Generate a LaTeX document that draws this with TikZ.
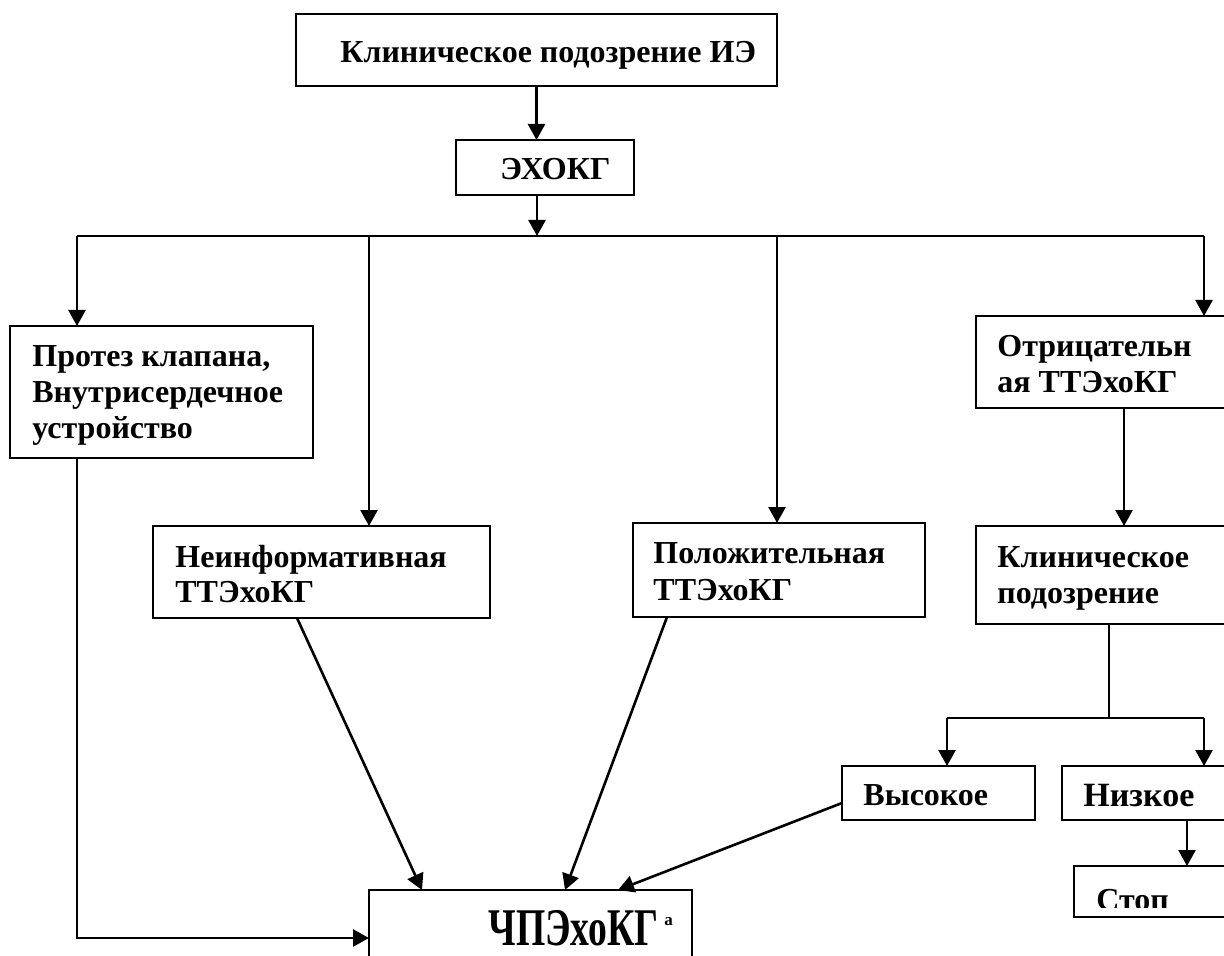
\documentclass[tikz,border=0pt]{standalone}
\usepackage{fontspec}
\setmainfont{Liberation Serif}
\usetikzlibrary{arrows.meta,fit}
\begin{document}
\begin{tikzpicture}[x=0.5pt,y=-0.5pt,
  box/.style={draw, line width=1.1pt, inner sep=0pt, outer sep=0pt},
  lbl/.style={anchor=base west, inner sep=0pt, font=\fontsize{16}{18}\selectfont\bfseries},
  conn/.style={line width=1.3pt},
  arr/.style={conn, -{Triangle[length=8pt,width=8.5pt]}}]
\useasboundingbox (0,0) rectangle (1224,956);
\clip (0,0) rectangle (1224,956);
% boxes
\node[box, fit={(296,14) (777,86)}] (ie) {};
\node[box, fit={(456,140) (634,195)}] (echo) {};
\node[box, fit={(10,326) (313,458)}] (prot) {};
\node[box, fit={(153,526) (490,618)}] (neinf) {};
\node[box, fit={(633,523) (925,617)}] (pos) {};
\node[box, fit={(976,316) (1240,408)}] (neg) {};
\node[box, fit={(976,526) (1240,624)}] (clin) {};
\node[box, fit={(842,766) (1035,820)}] (high) {};
\node[box, fit={(1062,766) (1240,820)}] (low) {};
\node[box, fit={(1074,866) (1240,917)}] (stop) {};
\node[box, fit={(369,890) (692,986)}] (tee) {};
% texts
\node[lbl] (t1) at (340,63) {Клиническое подозрение ИЭ};
\node[lbl] (t2) at (500,180) {ЭХОКГ};
\node[lbl] (t3a) at (32,367) {Протез клапана,};
\node[lbl] (t3b) at (32,403) {Внутрисердечное};
\node[lbl] (t3c) at (32,438) {устройство};
\node[lbl] (t4a) at (175,567) {Неинформативная};
\node[lbl] (t4b) at (175,602) {ТТЭхоКГ};
\node[lbl] (t5a) at (653,563) {Положительная};
\node[lbl] (t5b) at (653,600) {ТТЭхоКГ};
\node[lbl] (t6a) at (997,357) {Отрицательн};
\node[lbl] (t6b) at (997,393) {ая ТТЭхоКГ};
\node[lbl] (t7a) at (997,567) {Клиническое};
\node[lbl] (t7b) at (997,603) {подозрение};
\node[lbl] (t8) at (863,805) {Высокое};
\node[lbl, font=\fontsize{17}{18}\selectfont\bfseries] (t9) at (1083,806) {Низкое};
\begin{scope}
\clip (1074,866) rectangle (1240,907);
\node[lbl] (t10) at (1096,910) {Стоп};
\end{scope}
\node[lbl, font=\fontsize{26.5}{28}\selectfont\bfseries] (t11) at (488,945) {\scalebox{0.71}[1]{ЧПЭхоКГ}};
\node[lbl, font=\fontsize{8.5}{9}\selectfont\bfseries] (t12) at (664,925) {a};
% coordinates
\coordinate (j) at (537,236);
\coordinate (bl) at (77,236);
\coordinate (b2) at (369,236);
\coordinate (b3) at (777,236);
\coordinate (br) at (1204,236);
\coordinate (c1) at (1124,408);
\coordinate (s) at (1109,718);
\coordinate (hs) at (947,718);
\coordinate (ls) at (1204,718);
\coordinate (lo) at (1187,820);
% connectors
\draw[arr] (ie.south) -- (ie.south |- echo.north);
\draw[arr] (j |- echo.south) -- (j);
\draw[conn] (bl) -- (br);
\draw[arr] (bl) -- (bl |- prot.north);
\draw[arr] (b2) -- (b2 |- neinf.north);
\draw[arr] (b3) -- (b3 |- pos.north);
\draw[arr] (br) -- (br |- neg.north);
\draw[arr] (c1) -- (c1 |- clin.north);
\draw[conn] (s |- clin.south) -- (s);
\draw[conn] (hs) -- (ls);
\draw[arr] (hs) -- (hs |- high.north);
\draw[arr] (ls) -- (ls |- low.north);
\draw[arr] (lo) -- (lo |- stop.north);
\draw[arr] ([yshift=-5pt]high.west) -- ([xshift=43.75pt]tee.north);
\draw[arr] ([xshift=-12.25pt]neinf.south) -- ([xshift=-54.25pt]tee.north);
\draw[arr] ([xshift=-56pt]pos.south) -- ([xshift=17.25pt]tee.north);
\draw[arr] ([xshift=-42.25pt]prot.south) |- (tee.west);
\end{tikzpicture}
\end{document}
